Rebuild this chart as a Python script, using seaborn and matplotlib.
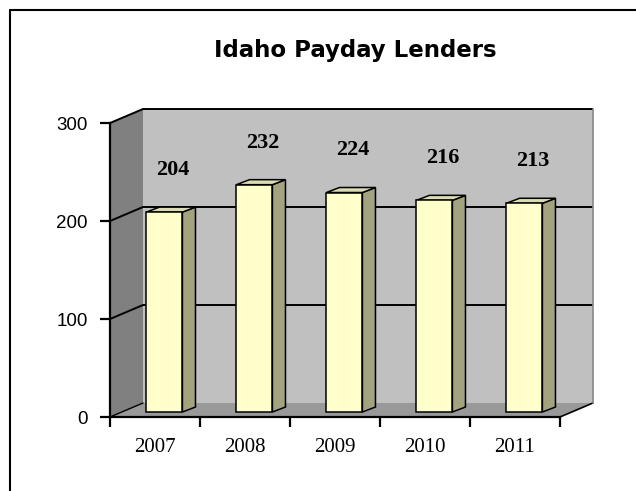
import matplotlib
matplotlib.use("Agg")
import matplotlib.pyplot as plt
from matplotlib.patches import Polygon
from matplotlib.lines import Line2D
import seaborn as sns
import pandas as pd

years = ["2007", "2008", "2009", "2010", "2011"]
lenders = [204, 232, 224, 216, 213]
y_ticks = [0, 100, 200, 300]

RENK_ON = '#ffffcc'
RENK_YAN = '#a3a37f'
RENK_UST = '#dcdcb4'
ARKA_DUVAR = '#c0c0c0'
SOL_DUVAR = '#808080'
ZEMIN = '#999999'

# depth offsets (data units): back wall and bar plane
DX_ARKA, DY_ARKA = 0.367, 14.3
DX_BAR, DY_BAR = 0.105, 5.1
DX_DERIN, DY_DERIN = 0.145, 5.1

sns.set_style("ticks", {'axes.grid': False})
plt.rcParams['font.family'] = ['Liberation Sans', 'DejaVu Sans']
plt.rcParams['text.color'] = 'black'
plt.rcParams['xtick.color'] = 'black'
plt.rcParams['ytick.color'] = 'black'
plt.rcParams['axes.labelcolor'] = 'black'

W, H = 636, 491
fig = plt.figure(figsize=(W / 100, H / 100), dpi=100)
fig.patch.set_facecolor('white')

ax = fig.add_axes([100 / W, (H - 425) / H, 510 / W, 330 / H])
ax.set_facecolor('none')

df = pd.DataFrame({"Yil": years, "Sayi": lenders})
sns.barplot(data=df, x="Yil", y="Sayi", color=RENK_ON, saturation=1,
            edgecolor='black', linewidth=1.1, width=0.4, ax=ax, zorder=5)

n = len(years)
x0, x1 = -0.5, n - 0.5
ymax = y_ticks[-1]

# walls and floor
sol = Polygon([(x0, 0), (x0 + DX_ARKA, DY_ARKA), (x0 + DX_ARKA, ymax + DY_ARKA), (x0, ymax)],
              closed=True, facecolor=SOL_DUVAR, edgecolor='none', zorder=1)
arka = Polygon([(x0 + DX_ARKA, DY_ARKA), (x1 + DX_ARKA, DY_ARKA),
                (x1 + DX_ARKA, ymax + DY_ARKA), (x0 + DX_ARKA, ymax + DY_ARKA)],
               closed=True, facecolor=ARKA_DUVAR, edgecolor='none', zorder=1)
zemin = Polygon([(x0, 0), (x1, 0), (x1 + DX_ARKA, DY_ARKA), (x0 + DX_ARKA, DY_ARKA)],
                closed=True, facecolor=ZEMIN, edgecolor='none', zorder=1)
for p in (sol, arka, zemin):
    ax.add_patch(p)

# gridlines on back and left walls
for t in y_ticks[1:]:
    ax.plot([x0, x0 + DX_ARKA, x1 + DX_ARKA], [t, t + DY_ARKA, t + DY_ARKA],
            color='black', lw=1.4, zorder=2, solid_capstyle='butt')
ax.plot([x0, x0 + DX_ARKA], [0, DY_ARKA], color='black', lw=1.0, zorder=2)
ax.plot([x1, x1 + DX_ARKA], [0, DY_ARKA], color='black', lw=1.2, zorder=2)
ax.plot([x1 + DX_ARKA, x1 + DX_ARKA], [DY_ARKA, ymax + DY_ARKA], color='#888888', lw=1.2, zorder=2)

# 3d look for the bars
for p in ax.patches[:]:
    if p in (sol, arka, zemin):
        continue
    p.set_x(p.get_x() + DX_BAR)
    p.set_y(DY_BAR)
    bx0 = p.get_x()
    bx1 = bx0 + p.get_width()
    ust = DY_BAR + p.get_height()
    yan = Polygon([(bx1, DY_BAR), (bx1 + DX_DERIN, DY_BAR + DY_DERIN),
                   (bx1 + DX_DERIN, ust + DY_DERIN), (bx1, ust)],
                  closed=True, facecolor=RENK_YAN, edgecolor='black', lw=1.1, zorder=4)
    tepe = Polygon([(bx0, ust), (bx0 + DX_DERIN, ust + DY_DERIN),
                    (bx1 + DX_DERIN, ust + DY_DERIN), (bx1, ust)],
                   closed=True, facecolor=RENK_UST, edgecolor='black', lw=1.1, zorder=4)
    ax.add_patch(yan)
    ax.add_patch(tepe)

# value labels
for i, v in enumerate(lenders):
    ax.text(i + 0.2, v + 48, str(v), ha='center', va='center', fontsize=16,
            fontweight='bold', family=['Liberation Serif', 'DejaVu Serif'], zorder=6)

ax.set_xlim(-0.611, 5.056)
ax.set_ylim(-8.16, 328.6)

for s in ('top', 'right'):
    ax.spines[s].set_visible(False)
ax.spines['left'].set_position(('data', x0))
ax.spines['left'].set_bounds(0, ymax)
ax.spines['bottom'].set_position(('data', 0))
ax.spines['bottom'].set_bounds(x0, x1)
for s in ('left', 'bottom'):
    ax.spines[s].set_linewidth(1.6)
    ax.spines[s].set_color('black')
    ax.spines[s].set_zorder(7)

ax.set_yticks(y_ticks)
ax.set_yticklabels([str(t) for t in y_ticks], fontsize=13.5)
ax.tick_params(axis='y', length=7, width=1.6, pad=9, color='black', labelcolor='black')

ax.set_xticks(range(n))
ax.set_xticklabels(years, fontsize=15, family=['Liberation Serif', 'DejaVu Serif'])
ax.set_xticks([i - 0.5 for i in range(n + 1)], minor=True)
ax.tick_params(axis='x', which='major', length=0, pad=15, labelcolor='black')
ax.tick_params(axis='x', which='minor', length=7, width=1.6, color='black')
ax.set_xlabel("")
ax.set_ylabel("")

fig.text(355 / W, 1 - 50 / H, "Idaho Payday Lenders", ha='center', va='center',
         fontsize=16.5, fontweight='bold', family=['DejaVu Sans'], color='black')

# chart border
fig.add_artist(Line2D([10 / W, 10 / W], [0, 1 - 10 / H], color='black', lw=1.5,
                      transform=fig.transFigure))
fig.add_artist(Line2D([10 / W, 1], [1 - 10 / H, 1 - 10 / H], color='black', lw=1.5,
                      transform=fig.transFigure))

fig.savefig('out.png', dpi=100)
